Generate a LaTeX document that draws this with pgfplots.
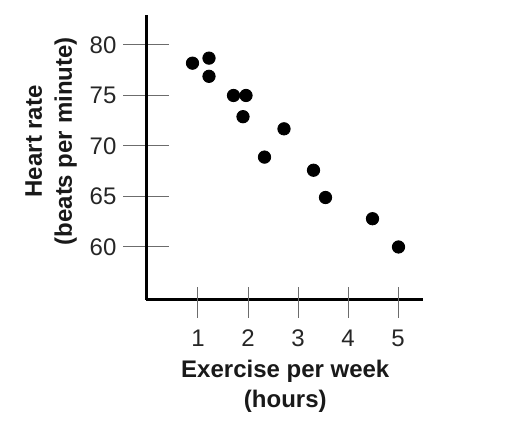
\documentclass[border=0pt]{standalone}
\usepackage{pgfplots}
\pgfplotsset{compat=1.18}
\usepackage{fontspec}
\setmainfont{Liberation Sans}
\begin{document}
\begin{tikzpicture}
\path[use as bounding box] (-73.25pt,-62.25pt) rectangle (191.75pt,149.75pt);
\begin{axis}[
  scale only axis,
  anchor=south west,
  at={(0,0)},
  width=138.25pt, height=142.25pt,
  xmin=-0.03, xmax=5.5,
  ymin=54.8, ymax=82.97,
  axis x line=bottom, axis y line=left,
  axis line style={-, line width=1.5pt, black},
  xtick={1,2,3,4,5},
  ytick={60,65,70,75,80},
  tick align=center,
  major tick length=23pt,
  x tick style={draw=none},
  y tick style={gray!85!black, line width=0.5pt},
  /pgf/number format/assume math mode=true,
  tick label style={font=\fontsize{12}{14}\selectfont, color=black!85},
  xlabel={Exercise per week\\(hours)},
  ylabel={Heart rate\\(beats per minute)},
  xlabel style={font=\bfseries\fontsize{12}{15}\selectfont, align=center, at={(axis description cs:0.502,-0.306)}, anchor=center, color=black!90},
  ylabel style={font=\bfseries\fontsize{12}{15}\selectfont, align=center, at={(axis description cs:-0.345,0.556)}, anchor=center, color=black!90},
  clip=false,
]
\draw[gray!85!black, line width=0.5pt] ([yshift=6.25pt]axis cs:1,54.8) -- ([yshift=-9.25pt]axis cs:1,54.8);
\draw[gray!85!black, line width=0.5pt] ([yshift=6.25pt]axis cs:2,54.8) -- ([yshift=-9.25pt]axis cs:2,54.8);
\draw[gray!85!black, line width=0.5pt] ([yshift=6.25pt]axis cs:3,54.8) -- ([yshift=-9.25pt]axis cs:3,54.8);
\draw[gray!85!black, line width=0.5pt] ([yshift=6.25pt]axis cs:4,54.8) -- ([yshift=-9.25pt]axis cs:4,54.8);
\draw[gray!85!black, line width=0.5pt] ([yshift=6.25pt]axis cs:5,54.8) -- ([yshift=-9.25pt]axis cs:5,54.8);
\addplot[only marks, mark=*, mark size=3.1pt, black] coordinates {
  (0.89,78.2) (1.22,78.7) (1.22,76.9) (1.71,75.0) (1.96,75.0) (1.90,72.9)
  (2.33,68.9) (2.72,71.7) (3.31,67.6) (3.55,64.9) (4.49,62.8) (5.01,60.0)
};
\end{axis}
\end{tikzpicture}
\end{document}
